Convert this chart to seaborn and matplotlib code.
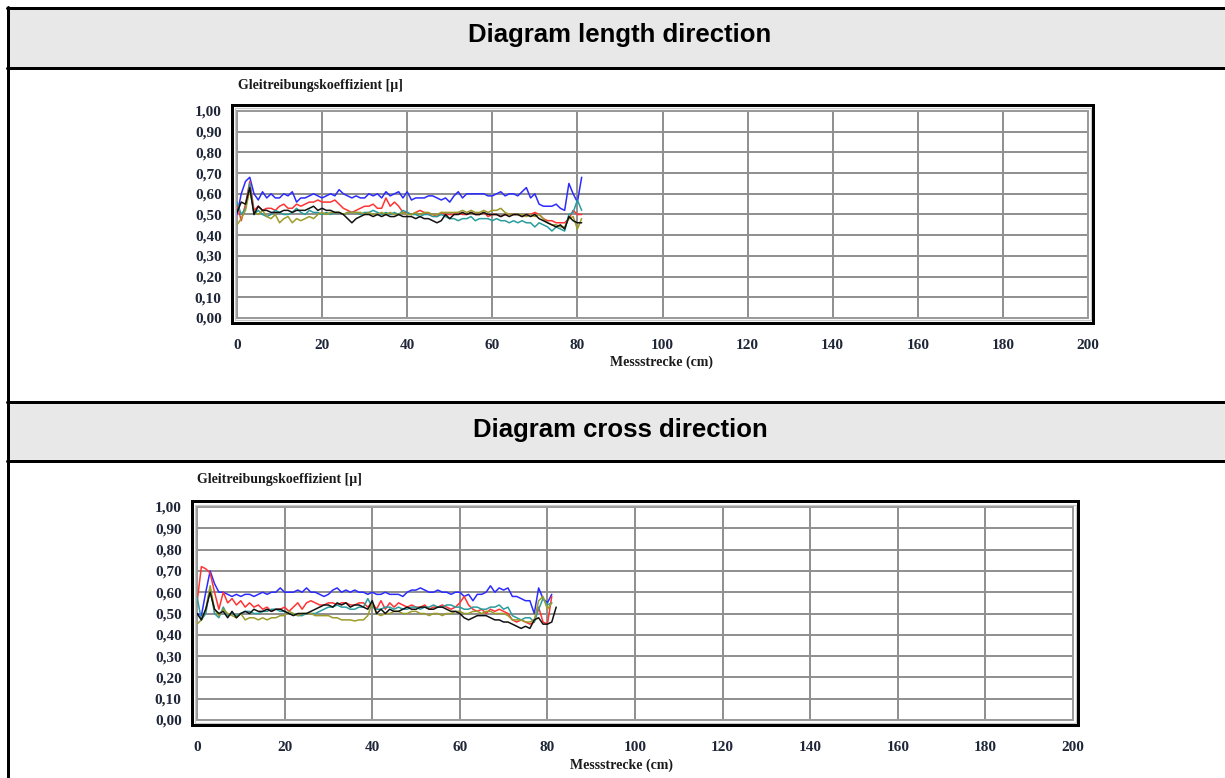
import numpy as np
import pandas as pd
import matplotlib
matplotlib.use("Agg")
import matplotlib.pyplot as plt
import seaborn as sns
from matplotlib.patches import Rectangle
from matplotlib.lines import Line2D

# ---------------- data ----------------
titles = ["Diagram length direction", "Diagram cross direction"]
y_title = "Gleitreibungskoeffizient [µ]"
x_title = "Messstrecke (cm)"
x_ticks = [0, 20, 40, 60, 80, 100, 120, 140, 160, 180, 200]
y_ticks = [0.0, 0.1, 0.2, 0.3, 0.4, 0.5, 0.6, 0.7, 0.8, 0.9, 1.0]
y_tick_labels = ["0,00", "0,10", "0,20", "0,30", "0,40", "0,50",
                 "0,60", "0,70", "0,80", "0,90", "1,00"]
series_names = ["blue", "red", "teal", "olive", "black"]
series_colors = ["#2b2bff", "#ff3434", "#2a9d9d", "#9c9c2a", "#111111"]

# length direction (cm 0..81, step 1)
len_blue = [0.50, 0.60, 0.66, 0.68, 0.60, 0.57, 0.61, 0.58, 0.60, 0.58, 0.58, 0.60, 0.59, 0.61, 0.56, 0.58,
            0.58, 0.59, 0.60, 0.59, 0.58, 0.59, 0.60, 0.59, 0.62, 0.60, 0.59, 0.58, 0.59, 0.58, 0.58, 0.60,
            0.59, 0.60, 0.58, 0.61, 0.59, 0.60, 0.61, 0.58, 0.61, 0.57, 0.58, 0.58, 0.58, 0.59, 0.59, 0.58,
            0.57, 0.58, 0.56, 0.59, 0.61, 0.58, 0.60, 0.60, 0.60, 0.60, 0.60, 0.59, 0.59, 0.60, 0.61, 0.59,
            0.60, 0.60, 0.59, 0.61, 0.63, 0.58, 0.60, 0.55, 0.54, 0.54, 0.54, 0.55, 0.53, 0.52, 0.65, 0.60,
            0.56, 0.68]
len_red = [0.55, 0.47, 0.55, 0.66, 0.52, 0.54, 0.52, 0.53, 0.53, 0.52, 0.54, 0.55, 0.53, 0.53, 0.55, 0.54,
           0.55, 0.56, 0.56, 0.57, 0.56, 0.56, 0.56, 0.57, 0.55, 0.53, 0.52, 0.51, 0.52, 0.53, 0.54, 0.54,
           0.55, 0.53, 0.53, 0.58, 0.54, 0.56, 0.54, 0.51, 0.51, 0.50, 0.51, 0.52, 0.51, 0.50, 0.50, 0.49,
           0.51, 0.50, 0.50, 0.50, 0.51, 0.50, 0.50, 0.51, 0.50, 0.50, 0.51, 0.49, 0.50, 0.50, 0.49, 0.50,
           0.50, 0.50, 0.50, 0.49, 0.50, 0.50, 0.51, 0.50, 0.48, 0.47, 0.47, 0.46, 0.46, 0.46, 0.48, 0.52,
           0.50, 0.50]
len_teal = [0.56, 0.50, 0.53, 0.65, 0.50, 0.52, 0.50, 0.49, 0.50, 0.52, 0.51, 0.50, 0.50, 0.51, 0.53, 0.51,
            0.50, 0.52, 0.51, 0.51, 0.50, 0.51, 0.50, 0.51, 0.51, 0.50, 0.51, 0.51, 0.51, 0.50, 0.51, 0.51,
            0.52, 0.51, 0.50, 0.51, 0.50, 0.51, 0.50, 0.52, 0.51, 0.50, 0.50, 0.49, 0.50, 0.50, 0.49, 0.49,
            0.50, 0.49, 0.48, 0.48, 0.47, 0.48, 0.48, 0.49, 0.47, 0.48, 0.48, 0.48, 0.47, 0.48, 0.47, 0.47,
            0.46, 0.47, 0.46, 0.47, 0.46, 0.46, 0.44, 0.46, 0.45, 0.44, 0.42, 0.44, 0.43, 0.42, 0.50, 0.51,
            0.57, 0.52]
len_olive = [0.45, 0.48, 0.52, 0.62, 0.51, 0.50, 0.52, 0.49, 0.48, 0.50, 0.46, 0.48, 0.49, 0.46, 0.48, 0.47,
             0.48, 0.49, 0.48, 0.50, 0.51, 0.50, 0.51, 0.51, 0.51, 0.50, 0.51, 0.51, 0.51, 0.51, 0.50, 0.51,
             0.50, 0.50, 0.51, 0.50, 0.51, 0.50, 0.50, 0.51, 0.50, 0.50, 0.51, 0.50, 0.51, 0.51, 0.50, 0.50,
             0.51, 0.51, 0.51, 0.51, 0.51, 0.52, 0.51, 0.52, 0.51, 0.51, 0.52, 0.51, 0.52, 0.52, 0.53, 0.51,
             0.50, 0.50, 0.50, 0.50, 0.49, 0.50, 0.49, 0.50, 0.48, 0.46, 0.45, 0.45, 0.44, 0.44, 0.48, 0.49,
             0.43, 0.48]
len_black = [0.51, 0.56, 0.55, 0.63, 0.50, 0.54, 0.52, 0.52, 0.51, 0.51, 0.51, 0.52, 0.52, 0.51, 0.52, 0.52,
             0.52, 0.53, 0.54, 0.52, 0.53, 0.52, 0.52, 0.51, 0.51, 0.50, 0.48, 0.46, 0.48, 0.49, 0.50, 0.50,
             0.49, 0.50, 0.49, 0.50, 0.49, 0.49, 0.50, 0.49, 0.49, 0.49, 0.48, 0.49, 0.48, 0.48, 0.47, 0.46,
             0.47, 0.50, 0.48, 0.50, 0.50, 0.51, 0.50, 0.51, 0.50, 0.50, 0.51, 0.50, 0.50, 0.50, 0.49, 0.50,
             0.49, 0.50, 0.50, 0.49, 0.50, 0.49, 0.50, 0.48, 0.47, 0.46, 0.45, 0.44, 0.45, 0.43, 0.49, 0.47,
             0.46, 0.46]

# cross direction
cross_blue = [0.50, 0.49, 0.60, 0.70, 0.64, 0.60, 0.60, 0.59, 0.58, 0.59, 0.58, 0.59, 0.59, 0.58, 0.59, 0.60,
              0.59, 0.60, 0.60, 0.62, 0.60, 0.60, 0.60, 0.61, 0.60, 0.62, 0.60, 0.60, 0.59, 0.58, 0.59, 0.61,
              0.62, 0.60, 0.61, 0.60, 0.61, 0.60, 0.60, 0.59, 0.60, 0.59, 0.59, 0.60, 0.59, 0.59, 0.59, 0.58,
              0.60, 0.61, 0.61, 0.62, 0.61, 0.60, 0.60, 0.61, 0.60, 0.60, 0.59, 0.60, 0.60, 0.58, 0.59, 0.56,
              0.59, 0.59, 0.60, 0.63, 0.60, 0.62, 0.61, 0.62, 0.58, 0.58, 0.57, 0.56, 0.56, 0.50, 0.62, 0.57,
              0.55, 0.59]
cross_red = [0.55, 0.72, 0.71, 0.69, 0.60, 0.52, 0.60, 0.55, 0.57, 0.54, 0.56, 0.53, 0.55, 0.53, 0.54, 0.52,
             0.53, 0.51, 0.52, 0.52, 0.53, 0.51, 0.53, 0.55, 0.52, 0.55, 0.56, 0.55, 0.54, 0.54, 0.55, 0.55,
             0.54, 0.55, 0.55, 0.54, 0.54, 0.55, 0.55, 0.53, 0.55, 0.52, 0.56, 0.52, 0.55, 0.53, 0.55, 0.54,
             0.53, 0.54, 0.53, 0.53, 0.54, 0.52, 0.53, 0.53, 0.54, 0.53, 0.52, 0.53, 0.55, 0.58, 0.54, 0.52,
             0.51, 0.52, 0.50, 0.52, 0.51, 0.52, 0.51, 0.50, 0.47, 0.46, 0.47, 0.46, 0.45, 0.46, 0.53, 0.46,
             0.45, 0.58]
cross_teal = [0.58, 0.47, 0.50, 0.62, 0.50, 0.48, 0.53, 0.49, 0.50, 0.49, 0.50, 0.51, 0.51, 0.50, 0.50, 0.51,
              0.51, 0.52, 0.52, 0.51, 0.51, 0.50, 0.50, 0.49, 0.49, 0.50, 0.50, 0.50, 0.51, 0.52, 0.53, 0.53,
              0.54, 0.53, 0.53, 0.52, 0.52, 0.53, 0.53, 0.57, 0.53, 0.52, 0.52, 0.53, 0.53, 0.52, 0.53, 0.52,
              0.52, 0.53, 0.53, 0.52, 0.53, 0.53, 0.54, 0.53, 0.53, 0.54, 0.54, 0.53, 0.53, 0.52, 0.52, 0.53,
              0.53, 0.52, 0.52, 0.53, 0.53, 0.54, 0.52, 0.53, 0.49, 0.48, 0.47, 0.48, 0.48, 0.46, 0.52, 0.57,
              0.54, 0.55]
cross_olive = [0.45, 0.47, 0.52, 0.63, 0.52, 0.49, 0.52, 0.50, 0.49, 0.48, 0.50, 0.47, 0.48, 0.48, 0.47, 0.48,
               0.47, 0.48, 0.48, 0.49, 0.49, 0.51, 0.50, 0.49, 0.50, 0.50, 0.50, 0.49, 0.49, 0.49, 0.49, 0.48,
               0.48, 0.47, 0.47, 0.47, 0.465, 0.47, 0.47, 0.49, 0.55, 0.50, 0.49, 0.50, 0.50, 0.51, 0.51, 0.50,
               0.50, 0.51, 0.51, 0.50, 0.50, 0.49, 0.50, 0.50, 0.49, 0.50, 0.50, 0.51, 0.51, 0.50, 0.50, 0.51,
               0.51, 0.50, 0.51, 0.51, 0.50, 0.50, 0.50, 0.49, 0.47, 0.47, 0.47, 0.46, 0.46, 0.47, 0.56, 0.58,
               0.52, 0.55]
cross_black = [0.50, 0.47, 0.52, 0.60, 0.52, 0.50, 0.51, 0.48, 0.51, 0.48, 0.50, 0.51, 0.50, 0.52, 0.51, 0.51,
               0.52, 0.51, 0.52, 0.52, 0.51, 0.50, 0.49, 0.50, 0.50, 0.50, 0.51, 0.52, 0.53, 0.54, 0.54, 0.53,
               0.55, 0.54, 0.55, 0.53, 0.54, 0.54, 0.53, 0.52, 0.56, 0.50, 0.52, 0.50, 0.52, 0.51, 0.51, 0.52,
               0.53, 0.52, 0.52, 0.53, 0.53, 0.52, 0.52, 0.53, 0.53, 0.52, 0.51, 0.51, 0.50, 0.48, 0.47, 0.48,
               0.49, 0.49, 0.49, 0.48, 0.47, 0.47, 0.46, 0.46, 0.45, 0.44, 0.43, 0.44, 0.43, 0.47, 0.48, 0.45,
               0.45, 0.46, 0.53]

length_series = [len_blue, len_red, len_teal, len_olive, len_black]
cross_series = [cross_blue, cross_red, cross_teal, cross_olive, cross_black]

# ---------------- figure ----------------
W, H = 1225, 778
sns.set_style("white")
plt.rcParams['font.family'] = ['Liberation Serif', 'DejaVu Serif']

fig = plt.figure(figsize=(W / 100, H / 100), dpi=100)


def fx(x):
    return x / W


def fy(y):
    return 1 - y / H


LW3 = 3 * 0.72  # 3 px in points

# header backgrounds
for (y0, y1) in [(8, 68), (402, 461)]:
    fig.patches.append(Rectangle((fx(9), fy(y1)), 1 - fx(9), (y1 - y0) / H,
                                 transform=fig.transFigure, facecolor='#e8e8e8',
                                 edgecolor='none', zorder=0))
# table lines
for y in [8, 68, 402, 461]:
    fig.add_artist(Line2D([fx(7), 1.0], [fy(y), fy(y)], transform=fig.transFigure,
                          color='black', lw=LW3, zorder=5))
fig.add_artist(Line2D([fx(8.3), fx(8.3)], [fy(6.5), 0.0], transform=fig.transFigure,
                      color='black', lw=LW3, zorder=5))

# header titles
for t, yb in zip(titles, [42, 437]):
    fig.text(fx(620), fy(yb), t, ha='center', va='baseline', fontsize=18.5,
             fontweight='bold', family=['Liberation Sans', 'DejaVu Sans'], color='black')

LABEL_COLOR = '#1f2637'

layouts = [
    dict(x0=237, x1=1088, ytop=111, ybot=318, yt=(238, 85), xt=(662, 362), series=length_series),
    dict(x0=197, x1=1073, ytop=507, ybot=720, yt=(197, 480), xt=(621, 765), series=cross_series),
]

for L in layouts:
    x0, x1, yt_, yb = L['x0'], L['x1'], L['ytop'], L['ybot']
    ax = fig.add_axes([fx(x0), fy(yb), (x1 - x0) / W, (yb - yt_) / H])
    rows = []
    for name, vals in zip(series_names, L['series']):
        for i, v in enumerate(vals):
            rows.append((name, i, v))
    df = pd.DataFrame(rows, columns=['series', 'cm', 'mu'])
    sns.lineplot(data=df, x='cm', y='mu', hue='series', hue_order=series_names,
                 palette=dict(zip(series_names, series_colors)), ax=ax,
                 legend=False, linewidth=1.1, sort=False, estimator=None, zorder=3)
    ax.set_xlim(0, 200)
    ax.set_ylim(0, 1)
    ax.set_xticks(x_ticks)
    ax.set_xticklabels([str(v) for v in x_ticks], fontsize=11, fontweight='bold', color=LABEL_COLOR)
    ax.set_yticks(y_ticks)
    ax.set_yticklabels(y_tick_labels, fontsize=11, fontweight='bold', color=LABEL_COLOR)
    ax.tick_params(axis='both', length=0)
    ax.tick_params(axis='y', pad=11)
    ax.tick_params(axis='x', pad=15)
    ax.set_xlabel('')
    ax.set_ylabel('')
    ax.grid(True, color='#8e8e8e', lw=1.4, zorder=1)
    ax.set_axisbelow(True)
    for sp in ax.spines.values():
        sp.set_color('#9a9a9a')
        sp.set_linewidth(1.4)
    fig.patches.append(Rectangle((fx(x0 - 2.5), fy(yb + 2.5)), (x1 - x0 + 5) / W, (yb - yt_ + 5) / H,
                                 transform=fig.transFigure, facecolor='none',
                                 edgecolor='#c8c8c8', lw=0.9, zorder=4))
    fig.patches.append(Rectangle((fx(x0 - 5), fy(yb + 4.5)), (x1 - x0 + 10) / W, (yb - yt_ + 11) / H,
                                 transform=fig.transFigure, facecolor='none',
                                 edgecolor='black', lw=LW3, zorder=4))
    fig.text(fx(L['yt'][0]), fy(L['yt'][1]), y_title, ha='left', va='center',
             fontsize=10, fontweight='bold', color='#1a1a1a')
    fig.text(fx(L['xt'][0]), fy(L['xt'][1]), x_title, ha='center', va='center',
             fontsize=10, fontweight='bold', color='#1a1a1a')

fig.savefig('out.png', dpi=100)
